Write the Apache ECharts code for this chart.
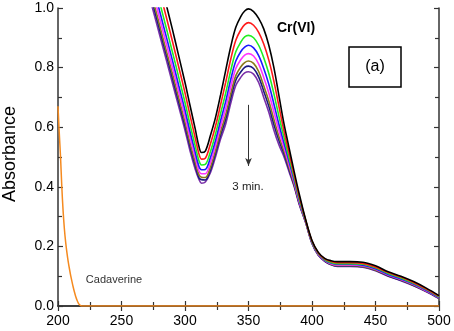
<!DOCTYPE html>
<html>
<head>
<meta charset="utf-8">
<script src="https://cdn.jsdelivr.net/npm/echarts@6/dist/echarts.min.js"></script>
<style>
html,body{margin:0;padding:0;background:#fff;}
#chart{width:454px;height:331px;}
</style>
</head>
<body>
<div id="chart"></div>
<script>
// Wavelength grid (nm) for the Cr(VI) spectra
const wave = [265,270,275,280,285,290,295,300,304,308,311,313,316,320,324,328,332,336,340,344,347,350,354,358,362,366,370,374,378,382,386,390,395,400,405,410,415,420,430,440,450,460,470,480,490,500];

// Absorbance of successive spectra (0 -> 3 min)
const crBlack  = [1.35,1.27,1.19,1.10,1.015,0.93,0.84,0.75,0.672,0.595,0.535,0.515,0.52,0.572,0.632,0.708,0.79,0.87,0.935,0.972,0.99,0.997,0.988,0.965,0.93,0.875,0.80,0.705,0.61,0.53,0.45,0.375,0.29,0.22,0.18,0.16,0.152,0.149,0.149,0.147,0.135,0.115,0.10,0.082,0.06,0.035];
const crRed    = [1.306,1.226,1.146,1.058,0.974,0.890,0.803,0.715,0.639,0.565,0.510,0.493,0.496,0.544,0.603,0.675,0.750,0.828,0.892,0.927,0.944,0.951,0.942,0.918,0.879,0.825,0.754,0.669,0.586,0.512,0.439,0.367,0.288,0.218,0.178,0.158,0.149,0.145,0.145,0.143,0.131,0.112,0.097,0.079,0.057,0.033];
const crGreen  = [1.266,1.186,1.106,1.020,0.937,0.854,0.769,0.683,0.608,0.538,0.487,0.473,0.475,0.518,0.577,0.646,0.714,0.790,0.853,0.886,0.903,0.908,0.900,0.875,0.833,0.780,0.712,0.636,0.564,0.496,0.429,0.360,0.286,0.216,0.176,0.156,0.146,0.142,0.142,0.140,0.128,0.109,0.094,0.076,0.055,0.031];
const crBlue   = [1.234,1.154,1.074,0.990,0.908,0.826,0.741,0.657,0.584,0.517,0.468,0.457,0.458,0.498,0.555,0.622,0.686,0.760,0.822,0.854,0.869,0.875,0.866,0.840,0.797,0.744,0.678,0.609,0.546,0.484,0.421,0.355,0.284,0.214,0.174,0.154,0.144,0.140,0.140,0.137,0.125,0.106,0.091,0.074,0.053,0.029];
const crMagenta= [1.208,1.128,1.048,0.965,0.884,0.802,0.719,0.636,0.564,0.499,0.453,0.444,0.444,0.481,0.538,0.603,0.662,0.735,0.797,0.827,0.842,0.847,0.839,0.812,0.767,0.715,0.651,0.588,0.532,0.473,0.414,0.350,0.283,0.213,0.173,0.153,0.142,0.138,0.138,0.135,0.123,0.104,0.089,0.072,0.051,0.028];
const crOlive  = [1.184,1.104,1.024,0.942,0.861,0.781,0.699,0.617,0.546,0.483,0.440,0.432,0.431,0.466,0.522,0.585,0.641,0.712,0.773,0.803,0.817,0.822,0.814,0.787,0.739,0.688,0.626,0.568,0.519,0.464,0.408,0.346,0.282,0.212,0.172,0.152,0.140,0.136,0.136,0.133,0.121,0.103,0.088,0.070,0.050,0.027];
const crNavy   = [1.168,1.088,1.008,0.927,0.847,0.766,0.685,0.604,0.534,0.472,0.430,0.424,0.423,0.456,0.512,0.573,0.626,0.697,0.758,0.786,0.801,0.805,0.797,0.769,0.721,0.670,0.609,0.555,0.510,0.457,0.404,0.343,0.281,0.211,0.171,0.151,0.139,0.134,0.134,0.132,0.120,0.101,0.086,0.069,0.049,0.026];
const crPurple = [1.15,1.07,0.99,0.91,0.83,0.75,0.67,0.59,0.52,0.46,0.425,0.412,0.416,0.447,0.50,0.56,0.61,0.68,0.74,0.768,0.782,0.786,0.778,0.75,0.70,0.65,0.59,0.54,0.50,0.45,0.40,0.34,0.28,0.21,0.17,0.15,0.138,0.133,0.133,0.13,0.118,0.10,0.085,0.068,0.048,0.025];

// Cadaverine spectrum
const cadWave = [200,201,202,203,204,205,206,207,208,209,210,211,212,213,214,215,216,217,218,219,250,300,350,400,450,500];
const cadAbs  = [0.67,0.58,0.50,0.40,0.32,0.26,0.215,0.18,0.15,0.125,0.102,0.082,0.063,0.046,0.031,0.019,0.01,0.004,0.001,0,0,0,0,0,0,0];

// Axis ticks
const xTicks = {min:200, max:500, step:50};
const yTicks = {min:0, max:1, step:0.2};

const crSeries = [
  {name:'t8', data:crPurple, color:'#7a2fa8'},
  {name:'t7', data:crNavy, color:'#1a1a80'},
  {name:'t6', data:crOlive, color:'#8a7a1a'},
  {name:'t5', data:crMagenta, color:'#ff33ff'},
  {name:'t4', data:crBlue, color:'#1a1aff'},
  {name:'t3', data:crGreen, color:'#22ee22'},
  {name:'t2', data:crRed, color:'#ff1a1a'},
  {name:'t1', data:crBlack, color:'#000000'}
];

const font = '"Liberation Sans", Arial, sans-serif';
const chart = echarts.init(document.getElementById('chart'), null, {renderer:'canvas'});

const series = crSeries.map(s => ({
  type:'line', name:s.name, data: wave.map((w,i)=>[w, s.data[i]]),
  showSymbol:false, smooth:0.35, clip:true,
  lineStyle:{color:s.color, width:1.6}, itemStyle:{color:s.color}, z:3
}));
series.push({
  type:'line', name:'Cadaverine', data: cadWave.map((w,i)=>[w, cadAbs[i]]),
  showSymbol:false, smooth:0.3, clip:true,
  lineStyle:{color:'#f58a1f', width:1.5}, z:2
});
// arrow "3 min."
series.push({
  type:'line', data:[], silent:true,
  markLine:{
    silent:true, symbol:['none','arrow'], symbolSize:[5,8],
    label:{show:false},
    lineStyle:{color:'#333', width:1, type:'solid'},
    data:[[{coord:[350,0.675]},{coord:[350,0.47]}]]
  }
});

const axisCommon = {
  axisLine:{show:true, lineStyle:{color:'#333', width:1.5}},
  axisTick:{show:true, inside:true, length:5, lineStyle:{color:'#333', width:1.2}},
  minorTick:{show:true, splitNumber:2, length:4, lineStyle:{color:'#333', width:1.2}},
  splitLine:{show:false}
};

chart.setOption({
  animation:false,
  backgroundColor:'#fff',
  grid:{left:58, right:15, top:8, bottom:25},
  xAxis:[
    Object.assign({type:'value', min:xTicks.min, max:xTicks.max, interval:xTicks.step, position:'bottom',
      axisLabel:{color:'#000', fontSize:14, fontFamily:font, margin:8}}, axisCommon),
    Object.assign({type:'value', min:xTicks.min, max:xTicks.max, interval:xTicks.step, position:'top',
      axisLabel:{show:false}}, axisCommon)
  ],
  yAxis:[
    Object.assign({type:'value', min:yTicks.min, max:yTicks.max, interval:yTicks.step, position:'left',
      axisLabel:{color:'#000', fontSize:14, fontFamily:font, margin:4, formatter:v=>v.toFixed(1)}}, axisCommon),
    Object.assign({type:'value', min:yTicks.min, max:yTicks.max, interval:yTicks.step, position:'right',
      axisLabel:{show:false}}, axisCommon)
  ],
  series: series,
  graphic:[
    {type:'text', x:10, y:154, rotation:Math.PI/2,
      style:{text:'Absorbance', font:'18px '+font, fill:'#000', align:'center', verticalAlign:'middle'}},
    {type:'text', x:296, y:28,
      style:{text:'Cr(VI)', font:'bold 14px '+font, fill:'#000', align:'center', verticalAlign:'middle'}},
    {type:'rect', shape:{x:349, y:47, width:52, height:40},
      style:{fill:'#fff', stroke:'#000', lineWidth:1.5}},
    {type:'text', x:375, y:67,
      style:{text:'(a)', font:'16px '+font, fill:'#000', align:'center', verticalAlign:'middle'}},
    {type:'text', x:248, y:187,
      style:{text:'3 min.', font:'11.5px '+font, fill:'#222', align:'center', verticalAlign:'middle'}},
    {type:'text', x:114, y:280,
      style:{text:'Cadaverine', font:'11px '+font, fill:'#333', align:'center', verticalAlign:'middle'}}
  ]
});
</script>
</body>
</html>
